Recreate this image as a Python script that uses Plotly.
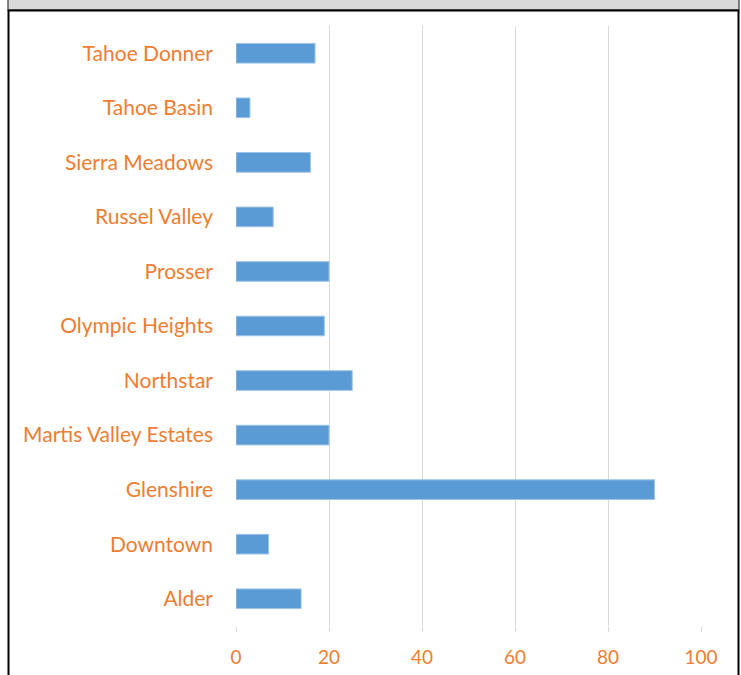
import plotly.graph_objects as go

categories = ["Alder", "Downtown", "Glenshire", "Martis Valley Estates", "Northstar",
              "Olympic Heights", "Prosser", "Russel Valley", "Sierra Meadows",
              "Tahoe Basin", "Tahoe Donner"]
values = [14, 7, 90, 20, 25, 19, 20, 8, 16, 3, 17]
x_ticks = [0, 20, 40, 60, 80, 100]

W, H = 741, 675
L, R, T, B = 236, 40, 26, 49
pw, ph = W - L - R, H - T - B

def px_x(x):
    return (x - L) / pw

def px_y(y):
    return (H - B - y) / ph

fig = go.Figure(go.Bar(
    y=categories, x=values, orientation="h", width=0.36,
    marker=dict(color="#5B9BD5", line=dict(color="#9DC3E6", width=1)),
))

orange = "#ED7D31"
fig.update_layout(
    width=W, height=H,
    margin=dict(l=L, r=R, t=T, b=B, autoexpand=False),
    paper_bgcolor="white", plot_bgcolor="white",
    font=dict(family="Lato, Open Sans, sans-serif", size=21, color=orange),
    showlegend=False,
    xaxis=dict(range=[0, 100], tickvals=x_ticks, showgrid=True, gridcolor="#D9D9D9",
               gridwidth=1, zeroline=False, showline=False, ticks="outside",
               ticklen=5, tickcolor="#D9D9D9", ticklabelstandoff=9, automargin=False,
               tickfont=dict(size=19, color=orange)),
    yaxis=dict(showgrid=False, zeroline=False, showline=False, automargin=False,
               ticklabelstandoff=22, tickfont=dict(size=21, color=orange)),
    shapes=[
        dict(type="rect", xref="paper", yref="paper",
             x0=px_x(8), x1=px_x(739), y0=px_y(10), y1=px_y(-2),
             fillcolor="#D9D9D9", line=dict(color="#595959", width=1.5), layer="below"),
        dict(type="line", xref="paper", yref="paper",
             x0=px_x(8), x1=px_x(739), y0=px_y(10.5), y1=px_y(10.5),
             line=dict(color="black", width=2)),
        dict(type="line", xref="paper", yref="paper",
             x0=px_x(8.5), x1=px_x(8.5), y0=px_y(10), y1=px_y(680),
             line=dict(color="black", width=2)),
        dict(type="line", xref="paper", yref="paper",
             x0=px_x(738.5), x1=px_x(738.5), y0=px_y(10), y1=px_y(680),
             line=dict(color="black", width=2)),
    ],
)

fig.write_html("out.html")
